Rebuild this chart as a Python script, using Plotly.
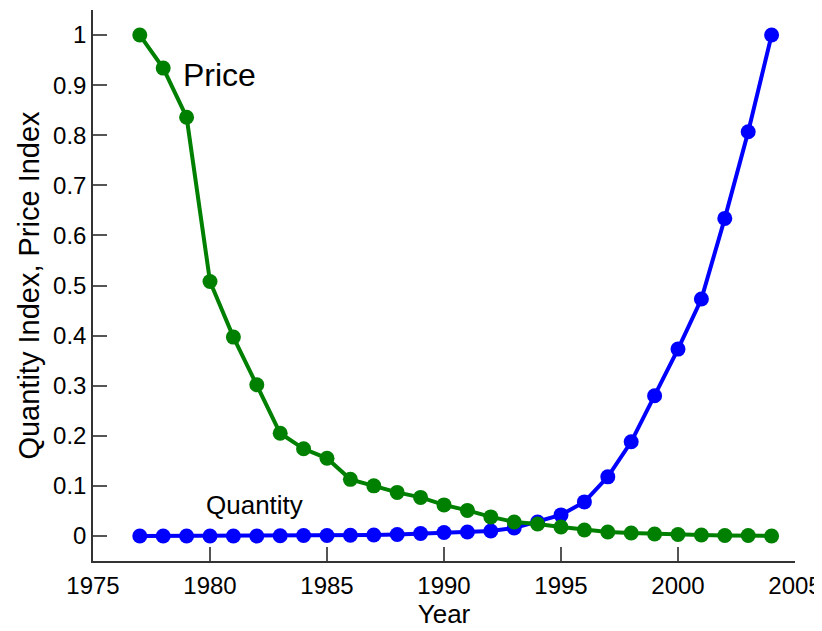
import plotly.graph_objects as go

years = list(range(1977, 2005))
price = [1.0, 0.934, 0.836, 0.508, 0.397, 0.302, 0.205, 0.174, 0.155, 0.113,
         0.100, 0.087, 0.077, 0.062, 0.051, 0.038, 0.028, 0.024, 0.018, 0.012,
         0.008, 0.006, 0.004, 0.003, 0.002, 0.001, 0.001, 0.0]
quantity = [0.0, 0.0, 0.0, 0.0, 0.0, 0.0, 0.0005, 0.001, 0.001, 0.0015,
            0.002, 0.003, 0.005, 0.007, 0.008, 0.010, 0.016, 0.028, 0.042, 0.068,
            0.118, 0.188, 0.280, 0.373, 0.473, 0.634, 0.807, 1.0]

x_ticks = [1975, 1980, 1985, 1990, 1995, 2000, 2005]
y_ticks = [0, 0.1, 0.2, 0.3, 0.4, 0.5, 0.6, 0.7, 0.8, 0.9, 1]
y_tick_labels = ["0", "0.1", "0.2", "0.3", "0.4", "0.5", "0.6", "0.7", "0.8", "0.9", "1"]

FONT = "Liberation Sans, Arial, sans-serif"

fig = go.Figure()
fig.add_trace(go.Scatter(x=years, y=quantity, mode="lines+markers",
                         line=dict(color="#0000FF", width=4),
                         marker=dict(color="#0000FF", size=15),
                         showlegend=False, cliponaxis=False))
fig.add_trace(go.Scatter(x=years, y=price, mode="lines+markers",
                         line=dict(color="#008000", width=4),
                         marker=dict(color="#008000", size=15),
                         showlegend=False, cliponaxis=False))

fig.add_annotation(x=1980.4, y=0.92, text="Price", showarrow=False,
                   font=dict(size=32, color="black", family=FONT))
fig.add_annotation(x=1981.9, y=0.062, text="Quantity", showarrow=False,
                   font=dict(size=26, color="black", family=FONT))

axis_common = dict(showgrid=False, zeroline=False, showline=True,
                   linecolor="#333333", linewidth=1.5,
                   ticks="inside", ticklen=14, tickwidth=1.5, tickcolor="#555555",
                   tickfont=dict(size=24, color="black", family=FONT),
                   automargin=False)

fig.update_xaxes(range=[1975, 2005], tickvals=x_ticks, ticklabelstandoff=2,
                 title=dict(text="Year", font=dict(size=26, color="black", family=FONT), standoff=3),
                 **axis_common)
fig.update_yaxes(range=[-0.05, 1.05], tickvals=y_ticks, ticktext=y_tick_labels,
                 title=dict(text="Quantity Index, Price Index",
                            font=dict(size=29, color="black", family=FONT), standoff=5),
                 **axis_common)

fig.update_layout(width=822, height=631, plot_bgcolor="white", paper_bgcolor="white",
                  margin=dict(l=85, r=35, t=2, b=78), font=dict(family=FONT))

fig.write_html("out.html")
